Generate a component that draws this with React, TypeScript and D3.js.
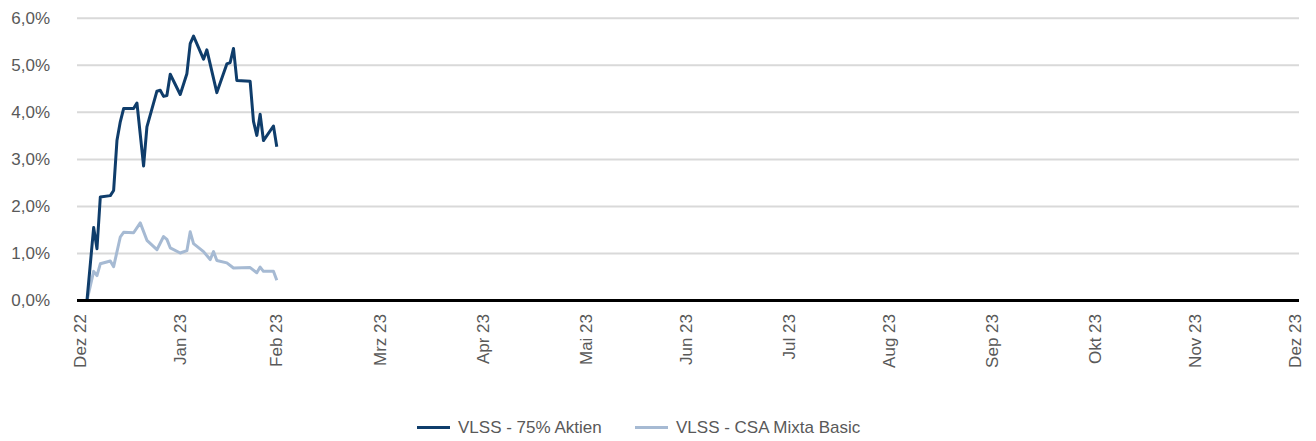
import React from "react";
import * as d3 from "d3";

// ---- data (day offsets from 2022-12-01, values in %) ----
const aktienDays = [2, 4, 5, 6, 9, 10, 11, 12, 13, 16, 17, 19, 20, 23, 24, 25, 26, 27, 30, 32, 33, 34, 37, 38, 41, 44, 45, 46, 47, 51, 52, 53, 54, 55, 58, 59];
const aktienValues = [0.0, 1.55, 1.1, 2.2, 2.23, 2.34, 3.4, 3.8, 4.08, 4.08, 4.2, 2.86, 3.69, 4.45, 4.47, 4.34, 4.36, 4.81, 4.38, 4.82, 5.46, 5.62, 5.13, 5.33, 4.42, 5.03, 5.06, 5.36, 4.68, 4.66, 3.81, 3.51, 3.96, 3.4, 3.71, 3.27];

const mixtaDays = [2, 4, 5, 6, 9, 10, 12, 13, 16, 18, 20, 23, 25, 26, 27, 30, 32, 33, 34, 37, 39, 40, 41, 44, 46, 51, 53, 54, 55, 58, 59];
const mixtaValues = [0.0, 0.62, 0.53, 0.78, 0.84, 0.72, 1.35, 1.45, 1.44, 1.65, 1.28, 1.08, 1.36, 1.3, 1.12, 1.01, 1.06, 1.46, 1.21, 1.04, 0.87, 1.04, 0.85, 0.8, 0.69, 0.7, 0.59, 0.71, 0.62, 0.62, 0.43];

const yTicks = [0, 1, 2, 3, 4, 5, 6];
const xTickDates = ["2022-12-01", "2022-12-31", "2023-01-29", "2023-03-01", "2023-04-01", "2023-05-02", "2023-06-01", "2023-07-02", "2023-08-01", "2023-09-01", "2023-10-02", "2023-11-01", "2023-12-01"];
const xTickLabels = ["Dez 22", "Jan 23", "Feb 23", "Mrz 23", "Apr 23", "Mai 23", "Jun 23", "Jul 23", "Aug 23", "Sep 23", "Okt 23", "Nov 23", "Dez 23"];

const seriesNames = ["VLSS - 75% Aktien", "VLSS - CSA Mixta Basic"];
const seriesColors = ["#0f3d6b", "#a6bad3"];

const W = 1316;
const H = 441;
const FONT = "'Liberation Sans', Arial, sans-serif";

export default function App() {
  const base = new Date(2022, 11, 1);
  const toDate = (d: number) => d3.timeDay.offset(base, d);
  const parse = d3.timeParse("%Y-%m-%d");

  const x = d3.scaleTime()
    .domain([new Date(2022, 10, 30), new Date(2023, 11, 2)])
    .range([77, 1299]);
  const y = d3.scaleLinear().domain([0, 6]).range([300.5, 18.3]);

  const line = d3.line<[Date, number]>()
    .x((d) => x(d[0]))
    .y((d) => y(d[1]));

  const series = [
    aktienDays.map((d, i) => [toDate(d), aktienValues[i]] as [Date, number]),
    mixtaDays.map((d, i) => [toDate(d), mixtaValues[i]] as [Date, number]),
  ];

  const fmt = (v: number) => v.toFixed(1).replace(".", ",") + "%";
  const [x0, x1] = x.range();

  const legendX = [417, 635];

  return (
    <svg
      width={W}
      height={H}
      style={{ position: "fixed", left: 0, top: 0, background: "#fff" }}
      fontFamily={FONT}
    >
      {yTicks.filter((t) => t > 0).map((t) => (
        <line key={t} x1={x0} x2={x1} y1={y(t)} y2={y(t)} stroke="#d9d9d9" strokeWidth={2} />
      ))}
      {yTicks.map((t) => (
        <text key={t} x={50} y={y(t)} textAnchor="end" dominantBaseline="central" fontSize={17} fill="#595959">
          {fmt(t)}
        </text>
      ))}
      {series.slice().reverse().map((s, ri) => {
        const i = series.length - 1 - ri;
        return (
          <path key={i} d={line(s) || ""} fill="none" stroke={seriesColors[i]} strokeWidth={3} strokeLinejoin="round" />
        );
      })}
      <line x1={x0} x2={x1} y1={y(0)} y2={y(0)} stroke="#000" strokeWidth={3} />
      {xTickDates.map((ds, i) => {
        const px = x(parse(ds) as Date);
        return (
          <text
            key={ds}
            transform={`translate(${px},314) rotate(-90)`}
            textAnchor="end"
            dominantBaseline="central"
            fontSize={17}
            fill="#595959"
          >
            {xTickLabels[i]}
          </text>
        );
      })}
      {seriesNames.map((n, i) => (
        <g key={n}>
          <line x1={legendX[i]} x2={legendX[i] + 33} y1={427.5} y2={427.5} stroke={seriesColors[i]} strokeWidth={3} />
          <text x={legendX[i] + 41} y={427} dominantBaseline="central" fontSize={17} fill="#595959">
            {n}
          </text>
        </g>
      ))}
    </svg>
  );
}
